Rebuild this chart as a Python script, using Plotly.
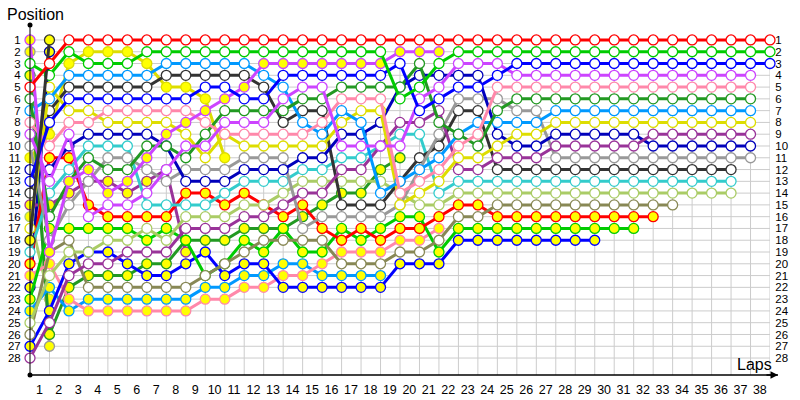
import plotly.graph_objects as go

# ---------------- data ----------------
lap_numbers = list(range(1, 39))
position_labels = list(range(1, 29))

# position per lap, index 0 = start grid
red = [5, 3] + [1] * 37
green = [3, 4, 2, 3, 3, 3] + [2] * 13 + [6, 5, 3] + [2] * 17
blue = [13, 8] + [6] * 7 + [5, 5, 6, 6] + [4] * 6 + [3, 7, 6, 5, 5, 4] + [3] * 14
magenta = [9, 13, 9, 16, 15, 15, 14, 12, 10, 10, 8, 8, 8, 6, 5, 5, 10, 10, 10, 10, 6, 5] + [3] * 3 + [4] * 13
pink = [8, 10, 8, 8] + [7] * 5 + [8] + [9] * 5 + [8] + [6] * 3 + [14, 13, 12, 10, 9] + [5] * 14
dkgreen = [6, 16, 13, 11, 12, 12, 10, 10, 11, 9] + [7] * 4 + [6, 6] + [5] * 3 + [5, 3, 8, 9, 10, 7] + [6] * 13
ltblue = [7, 6] + [4] * 5 + [3] * 5 + [4, 5, 8, 9, 7, 8, 14, 13, 12, 11, 9] + [8] * 4 + [7] * 11
yellow = [17, 5, 7, 7] + [8] * 4 + [9, 11, 9] + [10] * 5 + [8, 7, 7, 15, 14, 13, 11, 11, 10, 9, 9] + [8] * 11
purple = [28, 25, 21, 20, 20, 19, 19, 19, 17, 17, 17, 16, 16, 15, 14, 14, 12, 12, 10, 8, 8, 7, 12, 12] + [11] * 3 + [10] * 5 + [9] * 6
dkblue = [12, 12, 10] + [9] * 4 + [10, 13, 13, 13, 12, 12, 12, 11, 11, 9, 9, 8, 5, 4, 4, 4, 4, 9, 10, 10] + [9] * 5 + [10] * 6
gray = [10, 18, 15, 13, 11, 11, 12, 13, 12, 12, 12, 11, 11, 11, 17] + [16] * 4 + [15, 12, 9] + [6] * 3 + [7, 7] + [11] * 11
dkgray = [14, 7] + [5] * 5 + [4] * 5 + [5, 8, 7, 7] + [15] * 3 + [13, 11, 10, 7, 7] + [12] * 13
cyan = [19, 14, 12] + [10] * 3 + [15] * 4 + [14] + [13] * 3 + [12, 12, 11, 11, 10, 9, 9, 14] + [13] * 15
ltolive = [25, 21, 19, 19, 18, 18, 17, 18, 16, 16, 16, 15, 15, 14] + [13] * 5 + [14, 15, 15] + [14] * 15
olive = [26, 19, 18] + [22] * 6 + [21, 20, 19] + [18] * 4 + [20] * 3 + [19, 19, 18, 16, 16] + [15] * 10
red_y = [20, 11, 11, 15, 16, 16, 16, 16, 14, 14, 15, 14, 15, 16, 15, 17, 18, 17, 18, 17, 17, 16, 15, 15] + [16] * 9
green_y = [23, 17] + [17] * 4 + [18, 17, 18, 21, 20, 18, 19, 17, 19, 19, 17, 18, 17, 16, 16, 19] + [17] * 10
blue_y = [27, 24, 20, 19, 19, 20, 21, 21, 20, 19, 21, 20, 20, 22, 22, 22, 22, 22, 22, 20, 20, 20] + [18] * 8
magenta_y = [1, 19, 13, 12, 14, 13, 11, 9, 8, 7, 6, 5] + [3] * 7 + [2] * 3
pink_y = [21, 20, 23, 24, 24, 24, 24, 24, 24, 23, 23, 22, 22, 21, 21, 20, 19, 19, 19, 18, 18, 17]
ltblue_y = [24, 22, 24, 23, 23, 23, 23, 23, 23, 22, 22, 21, 21, 20, 20, 21, 21, 21, 21]
yellow_y = [11, 9, 3, 2, 2, 2, 3, 5, 5, 6, 11]
purple_y = [15, 15, 14, 13, 13, 14, 13, 12, 19]
dkgreen_y = [4, 26, 22, 21, 21, 21, 20, 20, 18, 18, 18, 17, 17, 17, 16, 15, 14, 14, 12, 11]
dkblue_y = [22, 2]
gray_y = [2, 27]
dkgray_y = [18, 1]
ltolive_y = [16, 23]

# (series, line colour, marker fill) drawn back to front
drivers = [
    (ltolive_y, "#AACC66", "#FFFF00"),
    (gray_y, "#999999", "#FFFF00"),
    (dkblue_y, "#0000AA", "#FFFF00"),
    (purple_y, "#993399", "#FFFF00"),
    (yellow_y, "#DDDD00", "#FFFF00"),
    (dkgreen_y, "#229922", "#FFFF00"),
    (ltblue_y, "#0099FF", "#FFFF00"),
    (pink_y, "#FF88AA", "#FFFF00"),
    (blue_y, "#0000FF", "#FFFF00"),
    (green_y, "#00CC00", "#FFFF00"),
    (red_y, "#FF0000", "#FFFF00"),
    (olive, "#888855", "#FFFFFF"),
    (ltolive, "#AACC66", "#FFFFFF"),
    (cyan, "#33CCCC", "#FFFFFF"),
    (dkgray, "#333333", "#FFFFFF"),
    (gray, "#999999", "#FFFFFF"),
    (dkblue, "#0000BB", "#FFFFFF"),
    (purple, "#993399", "#FFFFFF"),
    (yellow, "#DDDD00", "#FFFFFF"),
    (ltblue, "#0099FF", "#FFFFFF"),
    (dkgreen, "#229922", "#FFFFFF"),
    (pink, "#FF88AA", "#FFFFFF"),
    (magenta, "#CC44FF", "#FFFFFF"),
    (magenta_y, "#CC44FF", "#FFFF00"),
    (blue, "#0000FF", "#FFFFFF"),
    (green, "#00CC00", "#FFFFFF"),
    (dkgray_y, "#333333", "#FFFF00"),
    (red, "#FF0000", "#FFFFFF"),
]

# ---------------- figure ----------------
fig = go.Figure()
for series, col, fill in drivers:
    fig.add_trace(go.Scatter(
        x=list(range(len(series))), y=series, mode="lines+markers",
        line=dict(color=col, width=3),
        marker=dict(symbol="circle", size=10, color=fill, line=dict(color=col, width=1.3)),
        cliponaxis=False, showlegend=False, hoverinfo="skip",
    ))

# invisible trace for right axis
fig.add_trace(go.Scatter(x=[0], y=[1], yaxis="y2", mode="markers",
                         marker=dict(opacity=0), showlegend=False, hoverinfo="skip"))

Y_BOTTOM, Y_TOP = 29.44, -0.27
X_MAX = 38

shapes = []
for p in position_labels:
    shapes.append(dict(type="line", xref="x", yref="y", x0=0, x1=X_MAX, y0=p, y1=p,
                       line=dict(color="#CCCCCC", width=1), layer="below"))
for l in lap_numbers:
    shapes.append(dict(type="line", xref="x", yref="y", x0=l, x1=l, y0=0.75, y1=Y_BOTTOM,
                       line=dict(color="#CCCCCC", width=1), layer="below"))
# axes lines
shapes.append(dict(type="line", xref="paper", yref="paper", x0=0, x1=1.0108, y0=0, y1=0,
                   line=dict(color="black", width=1.5)))
shapes.append(dict(type="line", xref="paper", yref="paper", x0=0, x1=0, y0=0, y1=1,
                   line=dict(color="black", width=1)))
for yy in (0, 1):
    shapes.append(dict(type="circle", xref="paper", yref="paper", xsizemode="pixel", ysizemode="pixel",
                       xanchor=0, yanchor=yy, x0=-2.5, x1=2.5, y0=-2.5, y1=2.5,
                       fillcolor="black", line=dict(color="black", width=0)))

annotations = [
    dict(text="Position", xref="paper", yref="paper", x=-0.034, y=1.029, xanchor="left", yanchor="middle",
         showarrow=False, font=dict(size=16, color="black")),
    dict(text="Laps", xref="paper", yref="paper", x=1.006, y=0.03, xanchor="right", yanchor="middle",
         showarrow=False, font=dict(size=16, color="black")),
    dict(text="", xref="paper", yref="paper", x=1.0108, y=0, ax=-13, ay=0, showarrow=True,
         arrowhead=2, arrowsize=1, arrowwidth=1.5, arrowcolor="black"),
]

fig.update_layout(
    width=800, height=400,
    margin=dict(l=30, r=30, t=25, b=25),
    paper_bgcolor="white", plot_bgcolor="white",
    font=dict(family="Liberation Sans, Arial, sans-serif", color="black"),
    shapes=shapes, annotations=annotations,
    xaxis=dict(range=[0, X_MAX], showgrid=False, zeroline=False, showline=False, automargin=False,
               tickvals=[l - 0.52 for l in lap_numbers], ticktext=[str(l) for l in lap_numbers],
               ticks="outside", ticklen=3, tickcolor="rgba(0,0,0,0)", tickfont=dict(size=12.5)),
    yaxis=dict(range=[Y_BOTTOM, Y_TOP], showgrid=False, zeroline=False, showline=False, automargin=False,
               tickvals=position_labels, ticktext=[str(p) for p in position_labels],
               ticks="outside", ticklen=6, tickcolor="rgba(0,0,0,0)", tickfont=dict(size=11.5)),
    yaxis2=dict(range=[Y_BOTTOM, Y_TOP], overlaying="y", side="right", showgrid=False, automargin=False,
                zeroline=False, showline=False, tickvals=position_labels,
                ticktext=[str(p) for p in position_labels], ticks="outside", ticklen=2,
                tickcolor="rgba(0,0,0,0)", tickfont=dict(size=11.5)),
)

fig.write_html("out.html", config={"displayModeBar": False},
               post_script="document.body.style.margin='0';")
